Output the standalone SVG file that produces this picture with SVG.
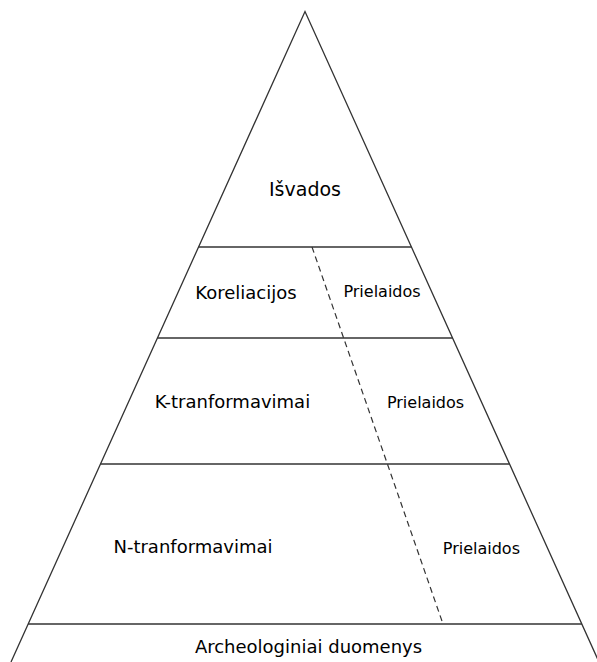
<svg xmlns="http://www.w3.org/2000/svg" width="597" height="662" viewBox="0 0 597 662">
<style>
.edge{fill:none;stroke:#333;stroke-width:1.3}
.dash{fill:none;stroke:#333;stroke-width:1.2;stroke-dasharray:6 4}
.big{font-family:"DejaVu Sans",Verdana,sans-serif;font-size:18px;fill:#000;text-anchor:middle}
.small{font-family:"DejaVu Sans",Verdana,sans-serif;font-size:16px;fill:#000;text-anchor:middle}
</style>
<rect width="597" height="662" fill="#fff"/>
<g id="connectors">
<polyline class="edge" points="11,662 305,11.5 599,662"/>
<line class="edge" x1="198.6" y1="247" x2="411.4" y2="247"/>
<line class="edge" x1="157.4" y1="338" x2="452.6" y2="338"/>
<line class="edge" x1="100.5" y1="464" x2="509.5" y2="464"/>
<line class="edge" x1="28.1" y1="624" x2="581.9" y2="624"/>
<line class="dash" x1="312" y1="247" x2="443" y2="624"/>
</g>
<g id="isvados"><text class="big" x="305" y="196" style="font-size:19px">Išvados</text></g>
<g id="koreliacijos"><text class="big" x="246" y="299">Koreliacijos</text></g>
<g id="prielaidos1"><text class="small" x="382" y="297">Prielaidos</text></g>
<g id="k-tranformavimai"><text class="big" x="232.4" y="408">K-tranformavimai</text></g>
<g id="prielaidos2"><text class="small" x="425.5" y="408">Prielaidos</text></g>
<g id="n-tranformavimai"><text class="big" x="193" y="553">N-tranformavimai</text></g>
<g id="prielaidos3"><text class="small" x="481.4" y="554">Prielaidos</text></g>
<g id="archeologiniai"><text class="big" x="308.5" y="652.5">Archeologiniai duomenys</text></g>
</svg>
